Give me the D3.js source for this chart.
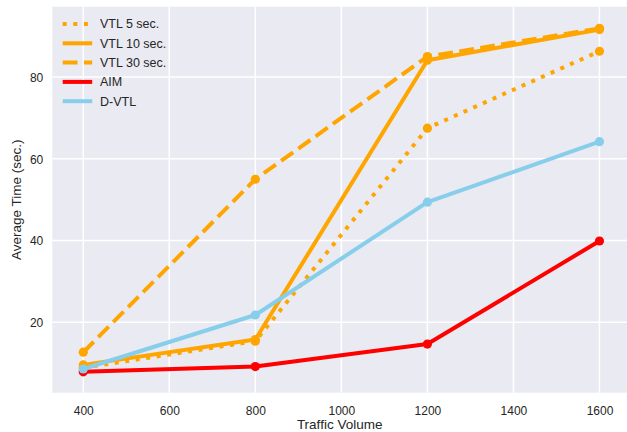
<!DOCTYPE html>
<html>
<head>
<meta charset="utf-8">
<script src="https://cdn.jsdelivr.net/npm/d3@7"></script>
<style>
  html, body { margin: 0; padding: 0; background: #ffffff; }
  svg { display: block; font-family: "Liberation Sans", Arial, sans-serif; }
</style>
</head>
<body>
<svg id="chart" width="627" height="432"></svg>
<script>
// Traffic volumes on the x axis
const volumes = [400, 800, 1200, 1600];

// Average time (sec.) per method
const vtl5  = [8.9, 15.4, 67.5, 86.3];
const vtl10 = [9.6, 15.8, 84.1, 91.6];
const vtl30 = [12.7, 55.0, 85.0, 91.9];
const aim   = [7.9, 9.2, 14.7, 39.9];
const dvtl  = [8.6, 21.8, 49.4, 64.2];

const seriesNames = ["VTL 5 sec.", "VTL 10 sec.", "VTL 30 sec.", "AIM", "D-VTL"];
const xTicks = [400, 600, 800, 1000, 1200, 1400, 1600];
const yTicks = [20, 40, 60, 80];

const series = [
  { name: seriesNames[0], values: vtl5,  color: "#FFA500", dash: "4,6.6" },
  { name: seriesNames[1], values: vtl10, color: "#FFA500", dash: null },
  { name: seriesNames[2], values: vtl30, color: "#FFA500", dash: "14.8,6.4" },
  { name: seriesNames[3], values: aim,   color: "#FF0000", dash: null },
  { name: seriesNames[4], values: dvtl,  color: "#87CEEB", dash: null }
];

const svg = d3.select("#chart");
const plot = { left: 52.3, right: 627, top: 6.7, bottom: 392.7 };
const textColor = "#262626";

const x = d3.scaleLinear().domain([328, 1664]).range([plot.left, plot.right]);
const y = d3.scaleLinear().domain([2.8, 97.2]).range([plot.bottom, plot.top]);

// Plot background
svg.append("rect")
  .attr("x", plot.left).attr("y", plot.top)
  .attr("width", plot.right - plot.left).attr("height", plot.bottom - plot.top)
  .attr("fill", "#EAEAF2");

// Grid lines
const grid = svg.append("g").attr("stroke", "#ffffff").attr("stroke-width", 1.5);
grid.selectAll("line.vx").data(xTicks).join("line")
  .attr("x1", d => x(d)).attr("x2", d => x(d))
  .attr("y1", plot.top).attr("y2", plot.bottom);
grid.selectAll("line.hy").data(yTicks).join("line")
  .attr("x1", plot.left).attr("x2", plot.right)
  .attr("y1", d => y(d)).attr("y2", d => y(d));

// Axes (labels only, no domain lines or ticks)
const xAxis = d3.axisBottom(x).tickValues(xTicks).tickSize(0).tickPadding(0).tickFormat(d3.format("d"));
const gx = svg.append("g").attr("transform", `translate(0,${plot.bottom})`).call(xAxis);
gx.select(".domain").remove();
gx.selectAll("text").attr("dy", null).attr("y", 22)
  .attr("font-size", 12).attr("fill", textColor).attr("font-family", "Liberation Sans, Arial, sans-serif");

const yAxis = d3.axisLeft(y).tickValues(yTicks).tickSize(0).tickPadding(0);
const gy = svg.append("g").attr("transform", `translate(${plot.left},0)`).call(yAxis);
gy.select(".domain").remove();
gy.selectAll("text").attr("x", -9).attr("dy", "0.35em")
  .attr("font-size", 12).attr("fill", textColor).attr("font-family", "Liberation Sans, Arial, sans-serif");

// Axis titles
svg.append("text")
  .attr("x", (plot.left + plot.right) / 2).attr("y", 428.5)
  .attr("text-anchor", "middle").attr("font-size", 13.5).attr("fill", textColor)
  .text("Traffic Volume");
svg.append("text")
  .attr("transform", `translate(20.5,${(plot.top + plot.bottom) / 2}) rotate(-90)`)
  .attr("text-anchor", "middle").attr("font-size", 13.5).attr("fill", textColor)
  .text("Average Time (sec.)");

// Series lines with circle markers
const line = d3.line().x((d, i) => x(volumes[i])).y(d => y(d));
series.forEach(s => {
  const g = svg.append("g");
  g.append("path")
    .attr("d", line(s.values))
    .attr("fill", "none")
    .attr("stroke", s.color)
    .attr("stroke-width", 4)
    .attr("stroke-linejoin", "round")
    .attr("stroke-dasharray", s.dash);
  g.selectAll("circle").data(s.values).join("circle")
    .attr("cx", (d, i) => x(volumes[i]))
    .attr("cy", d => y(d))
    .attr("r", 4.6)
    .attr("fill", s.color);
});

// Legend
const legend = svg.append("g");
const rowY = i => 24 + i * 19.3;
series.forEach((s, i) => {
  legend.append("line")
    .attr("x1", 62.7).attr("x2", 92.2)
    .attr("y1", rowY(i)).attr("y2", rowY(i))
    .attr("stroke", s.color).attr("stroke-width", 4)
    .attr("stroke-dasharray", s.dash);
  legend.append("text")
    .attr("x", 100).attr("y", rowY(i)).attr("dy", "0.35em")
    .attr("font-size", 12.5).attr("fill", textColor)
    .text(s.name);
});
</script>
</body>
</html>
